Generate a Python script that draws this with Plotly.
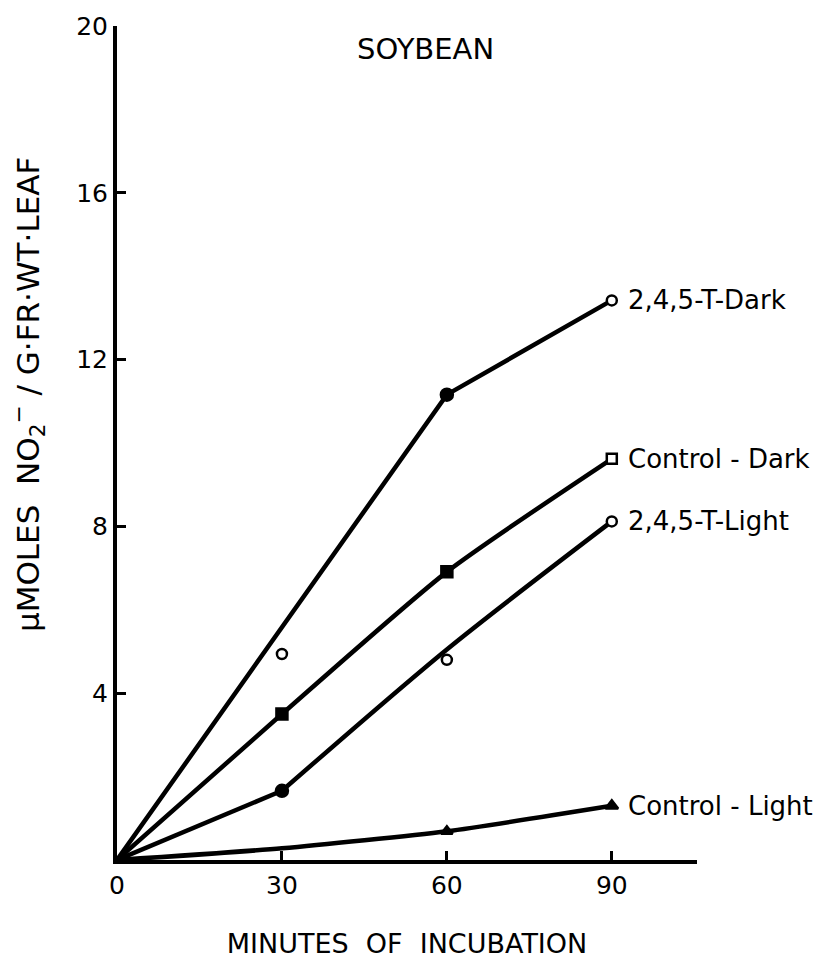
import plotly.graph_objects as go

# ---- data ----
minutes = [0, 30, 60, 90]

t245_dark_line_x = [0, 60, 90]
t245_dark_line_y = [0, 11.16, 13.42]
t245_dark_pts_x = [30, 60, 90]
t245_dark_pts_y = [4.94, 11.16, 13.42]

control_dark_y = [0, 3.50, 6.91, 9.62]
t245_light_line_y = [0, 1.66, 5.05, 8.12]
t245_light_pts_y = [1.66, 4.80, 8.12]           # at 30, 60, 90
control_light_y = [0, 0.28, 0.69, 1.30]

series_labels = ["2,4,5-T-Dark", "Control - Dark", "2,4,5-T-Light", "Control - Light"]
label_y = [13.42, 9.62, 8.12, 1.30]

x_ticks = [0, 30, 60, 90]
y_ticks = [4, 8, 12, 16, 20]

FONT = "DejaVu Sans"
LW = 4.5
MS = 10

fig = go.Figure()

def pts(x, y, symbol, fills, size=MS):
    fig.add_trace(go.Scatter(x=x, y=y, mode="markers",
                             marker=dict(symbol=symbol, size=size, color=fills, opacity=1,
                                         line=dict(width=2.5, color="#000000"))))

# 2,4,5-T Dark
fig.add_trace(go.Scatter(x=t245_dark_line_x, y=t245_dark_line_y, mode="lines",
                         line=dict(color="black", width=LW)))
pts(t245_dark_pts_x, t245_dark_pts_y, "circle", ["white", "#000000", "white"], [MS, MS + 2, MS])

# Control Dark
fig.add_trace(go.Scatter(x=minutes, y=control_dark_y, mode="lines",
                         line=dict(color="black", width=LW, shape="spline", smoothing=0.6)))
pts(minutes[1:], control_dark_y[1:], "square", ["#000000", "#000000", "white"], [MS + 1, MS + 1, MS])

# 2,4,5-T Light
fig.add_trace(go.Scatter(x=minutes[:2], y=t245_light_line_y[:2], mode="lines",
                         line=dict(color="black", width=LW)))
fig.add_trace(go.Scatter(x=minutes[1:], y=t245_light_line_y[1:], mode="lines",
                         line=dict(color="black", width=LW, shape="spline", smoothing=0.8)))
pts(minutes[1:], t245_light_pts_y, "circle", ["#000000", "white", "white"], [MS + 2, MS, MS])

# Control Light
fig.add_trace(go.Scatter(x=minutes, y=control_light_y, mode="lines",
                         line=dict(color="black", width=LW, shape="spline", smoothing=0.6)))
pts(minutes[2:], control_light_y[2:], "triangle-up", "#000000", [MS, MS + 1])

for txt, yv in zip(series_labels, label_y):
    fig.add_annotation(x=90, y=yv, text=txt, showarrow=False, xanchor="left",
                       yanchor="middle", xshift=14,
                       font=dict(family=FONT, size=26, color="black"))

fig.add_annotation(x=(425 - 117) / 580, y=1, xref="paper", yref="paper", text="SOYBEAN",
                   showarrow=False, xanchor="center", yanchor="top", yshift=-4,
                   font=dict(family=FONT, size=29, color="black"))

fig.add_annotation(x=(28 - 117) / 580, y=(860 - 390) / 843, xref="paper", yref="paper",
                   text="µMOLES  NO<sub>2</sub><sup>−</sup> / G·FR·WT·LEAF",
                   showarrow=False, textangle=-90, xanchor="center", yanchor="middle",
                   font=dict(family=FONT, size=31, color="black"))

fig.update_layout(
    width=836, height=972,
    margin=dict(l=117, r=139, t=17, b=112),
    paper_bgcolor="white", plot_bgcolor="white",
    showlegend=False,
    font=dict(family=FONT, color="black"),
    xaxis=dict(range=[0, 105.5], tickvals=x_ticks, ticktext=[str(v) for v in x_ticks],
               ticks="inside", ticklen=9, tickwidth=3, tickcolor="black",
               showline=True, linewidth=4, linecolor="black", showgrid=False, zeroline=False,
               tickfont=dict(family=FONT, size=25, color="black"),
               title=dict(text="MINUTES  OF  INCUBATION", standoff=36,
                          font=dict(family=FONT, size=27, color="black"))),
    yaxis=dict(range=[0, 20], tickvals=y_ticks, ticktext=[str(v) for v in y_ticks],
               ticks="inside", ticklen=9, tickwidth=3, tickcolor="black",
               showline=True, linewidth=4, linecolor="black", showgrid=False, zeroline=False,
               tickfont=dict(family=FONT, size=25, color="black")),
)

fig.write_html("out.html")
